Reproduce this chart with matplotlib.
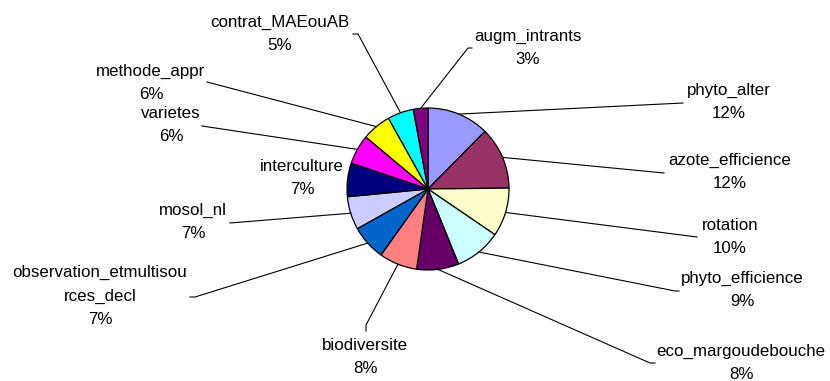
import numpy as np
import matplotlib
matplotlib.use("Agg")
from matplotlib import pyplot as plt

# parts of each theme (percent)
themes = ["phyto_alter", "azote_efficience", "rotation", "phyto_efficience",
          "eco_margoudebouche", "biodiversite", "observation_etmultisou\nrces_decl",
          "mosol_nl", "interculture", "varietes", "methode_appr",
          "contrat_MAEouAB", "augm_intrants"]
parts = [12.4, 12.4, 9.7, 9.3, 8.4, 7.6, 7.0, 6.6, 6.7, 5.9, 5.8, 5.2, 2.9]
colors = ["#9999FF", "#993366", "#FFFFCC", "#CCFFFF", "#660066", "#FF8080",
          "#0066CC", "#CCCCFF", "#000080", "#FF00FF", "#FFFF00", "#00FFFF",
          "#800080"]

W, H = 830, 381
def px(x, y):
    # screen pixel (y down) -> axes coords (y up)
    return x, H - y

# label block centre and elbow of the leader line (None = no line)
label_pos = [(729, 102), (730, 172), (730, 237), (742, 290), (741, 363),
             (365, 357), (100, 296), (193, 222), (302, 178), (171, 125),
             (151, 83), (280, 34), (528, 48)]
elbows = [[(683, 103)], [(664, 173)], [(697, 237)], [(675, 291), (679, 291)],
          [(650, 363), (655, 363)], [(366, 325), (366, 331)],
          [(195, 297), (190, 297)], [(230, 223)], None, [(202, 126)],
          [(207, 82)], [(358, 34), (353, 34)], [(468, 48), (472, 48)]]

fig = plt.figure(figsize=(W / 100, H / 100), dpi=100)
ax = fig.add_axes([0, 0, 1, 1])

cx, cy = px(428, 189)
r = 81
wedges, _ = ax.pie(parts, colors=colors, startangle=90, counterclock=False,
                   center=(cx, cy), radius=r,
                   wedgeprops=dict(edgecolor="black", linewidth=0.9))
ax.set_xlim(0, W)
ax.set_ylim(0, H)
ax.set_aspect("equal")
ax.axis("off")

total = sum(parts)
for w, name, v, pos, elb in zip(wedges, themes, parts, label_pos, elbows):
    ang = np.deg2rad((w.theta1 + w.theta2) / 2)
    sx, sy = cx + r * np.cos(ang), cy + r * np.sin(ang)
    if elb is not None:
        pts = [px(*p) for p in elb]
        xs = [sx] + [p[0] for p in pts]
        ys = [sy] + [p[1] for p in pts]
        ax.plot(xs, ys, color="black", linewidth=0.8)
    tx, ty = px(*pos)
    ax.text(tx, ty, f"{name}\n{v / total * 100:.0f}%", ha="center", va="center",
            fontsize=12.2, family="Liberation Sans", linespacing=1.7)

fig.savefig("out.png", dpi=100)
